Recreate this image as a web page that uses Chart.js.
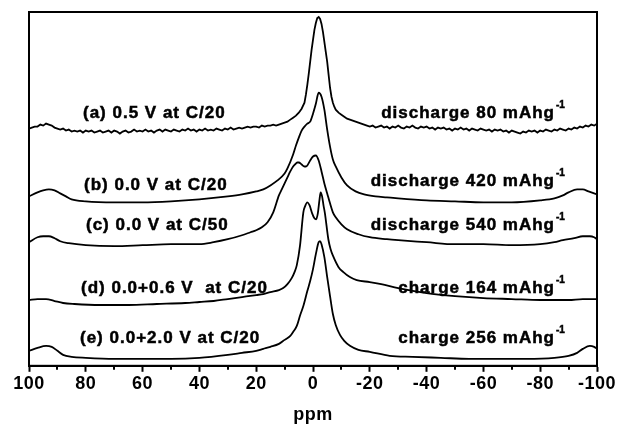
<!DOCTYPE html>
<html><head><meta charset="utf-8">
<script src="https://cdn.jsdelivr.net/npm/chart.js@4.4.0/dist/chart.umd.min.js"></script>
<style>html,body{margin:0;padding:0;background:#fff;}canvas{display:block;}</style>
</head><body><canvas id="c" width="621" height="433"></canvas>
<script>
// ---------- data (ppm positions and stacked intensities, a.u.) ----------
const ppmA = [100,99,98,97,96,95,94,93,92,91,90,89,88,87,86,85,84,83,82,81,80,79,78,77,76,75,74,73,72,71,70,69,68,67,66,65,64,63,62,61,60,59,58,57,56,55,54,53,52,51,50,49,48,47,46,45,44,43,42,41,40,39,38,37,36,35,34,33,32,31,30,29,28,27,26,25,24,23,22,21,20,19,18,17,16,15,14,13,
12,11,10,9,8,7,6,5,4,3,2.5,2,1.5,1,0.5,0,-0.5,-1,-1.5,-2,-2.5,-3,-3.5,-4,-4.5,-5,-5.5,-6,-6.5,-7,-7.5,-8,-9,-10,-11,-12,-13,-14,-15,-16,-17,-18,-19,
-20,-21,-22,-23,-24,-25,-26,-27,-28,-29,-30,-31,-32,-33,-34,-35,-36,-37,-38,-39,-40,-41,-42,-43,-44,-45,-46,-47,-48,-49,-50,-51,-52,-53,-54,-55,-56,-57,-58,-59,-60,-61,-62,-63,-64,-65,-66,-67,-68,-69,-70,-71,-72,-73,-74,-75,-76,-77,-78,-79,-80,-81,-82,-83,-84,-85,-86,-87,-88,-89,-90,-91,-92,-93,-94,-95,-96,-97,-98,-99,-100];
const intA = [238,239,240,240,242,241,243,242,241,239,238,237,238,236,237,235,236,235,236,234,236,235,236,234,235,236,234,235,236,234,236,235,233,235,236,234,235,237,235,236,235,237,235,236,234,236,237,235,237,236,235,237,236,235,237,236,238,236,237,235,237,236,238,236,237,236,238,237,236,238,237,239,237,238,239,238,239,240,239,240,240,239,241,240,241,241,242,241,
242,243,244,245,247,249,251,254,258,264,272,282,293,305,317,327,337,344,349,350,348,343,335,325,315,305,292,279,270,264,260,257,254,252,250,248,247,246,245,244,243,242,241,
240,241,239,240,241,239,240,238,240,239,241,239,238,240,239,241,239,238,240,239,240,238,239,237,239,238,239,237,238,236,238,237,239,237,238,236,238,237,236,238,237,236,237,235,237,236,237,235,236,234,236,235,234,233,235,234,236,235,236,234,236,235,237,236,235,237,236,238,237,236,238,237,239,238,240,239,241,240,242,241,243];

const ppmB = [100,97,95,93,91,89,87,85,80,70,60,50,40,30,25,20,17.5,15,12.5,10,9,7,6,5,4,3,2,1,0,-1,-2,-3,-4,-5,-6,-7,-8,-10,-12,-15,-18,-22,-26,-30,-40,-50,-60,-70,-80,-85,-88,-90,-93,-95,-97,-100];
const intB = [170,174,176,177,176,173,170,167,165,164,164,165,167,170,172,175,177,181,186,193,198,212,221,229,236,240,243,245,253,263,274,270,257,237,220,207,200,189,181,175,172,170,169,168,166,165,164,164,166,168,171,174,177,177,175,172];

const ppmC = [100,97,95,93,91,89,86,80,70,60,50,40,35,30,25,22,20,18,16,14,12,11,10,9,8,7,6,5.5,5,4,3,2.5,2,1,0,-1,-2,-3,-4,-5,-6,-7,-8,-10,-12,-16,-20,-26,-30,-40,-50,-60,-70,-80,-85,-88,-92,-95,-97.5,-99,-100];
const intC = [124,129,130,130,128,125,123,121,120,121,122,122,124,127,131,134,136,139,144,154,171,177,183,189,195,200,203,204,204,202,200,200,201,206,210,211,206,195,183,173,163,154,149,142,137,132,129,127,126,124,122,122,121,122,124,126,128,130,130,129,127];

const ppmD = [100,97,94,91,88,84,75,65,55,45,40,35,30,25,20,17.5,15,12,10.5,9,7.5,6.5,5.7,4.6,3.4,2.8,2,1.2,0.3,-0.5,-1.1,-1.7,-2.3,-2.7,-3.2,-3.7,-4.2,-5.4,-6.2,-7.1,-9,-10.7,-13,-15.4,-20,-24,-30,-40,-50,-60,-70,-80,-90,-95,-98,-100];
const intD = [66,67,67,65,63,62,61,61,62,63,64,65,67,69,71,72,74,76,78,82,88,94,101,120,154,160,164,161,153,148,147,153,167,174,170,161,153,127,117,110,99,94,89,86,84,82,78,73,70,68,67,66,66,67,67,67];

const ppmE = [100,97,94,92,90,88,85,80,70,60,50,40,30,25,20,17.5,15,12,10,8,7,5.7,4.5,3.4,2,1,0,-1,-2,-2.5,-3,-4,-5,-6,-7,-8,-9.5,-11,-13,-16,-20,-27,-35,-45,-55,-65,-75,-85,-90,-93,-95,-97.5,-99,-100];
const intE = [15,18,20,19,15,11,9,8,7,7,7,8,11,13,15,17,19,22,26,30,34,40,51,60,75,85,97,112,124,125,122,109,89,70,52,41,31,25,20,16,14,10,9,8,7,7,7,8,10,13,17,20,19,17];

const leftLabels = ['(a) 0.5 V at C/20','(b) 0.0 V at C/20','(c) 0.0 V at C/50','(d) 0.0+0.6 V  at C/20','(e) 0.0+2.0 V at C/20'];
const rightLabels = ['discharge 80 mAhg','discharge 420 mAhg','discharge 540 mAhg','charge 164 mAhg','charge 256 mAhg'];
const unitSuperscript = '-1';
const majorTicks = [100,80,60,40,20,0,-20,-40,-60,-80,-100];
const minorTicks = [90,70,50,30,10,-10,-30,-50,-70,-90];
const xTitle = 'ppm';

// ---------- layout / style ----------
const FONT = '"Liberation Sans", Arial, Helvetica, sans-serif';
const leftLabelX = [83,84,86,81,80];
const leftLabelY = [113,185,225,288,338];
const rightLabelEndX = 555;
const rightLabelY = [113,181,225,288,338];

function pts(xs, ys){ return xs.map((x,i)=>({x:x, y:ys[i]})); }
const series = [[ppmA,intA],[ppmB,intB],[ppmC,intC],[ppmD,intD],[ppmE,intE]];

function heavyText(ctx, t, x, y){
  ctx.fillText(t, x, y);
  ctx.strokeText(t, x, y);
}

const decor = {
  id:'decor',
  beforeDraw(chart){ chart.ctx.letterSpacing = '0.5px'; },
  afterDraw(chart){
    const ctx = chart.ctx, a = chart.chartArea, xs = chart.scales.x;
    ctx.save();
    ctx.strokeStyle = '#000'; ctx.lineWidth = 2;
    ctx.strokeRect(a.left, a.top, a.right - a.left, a.bottom - a.top);
    ctx.beginPath();
    minorTicks.forEach(v => { const px = Math.round(xs.getPixelForValue(v)); ctx.moveTo(px, a.bottom); ctx.lineTo(px, a.bottom + 4); });
    ctx.stroke();
    ctx.fillStyle = '#000';
    ctx.lineWidth = 0.5;
    ctx.textBaseline = 'middle';
    leftLabels.forEach((t,i) => {
      ctx.font = 'bold 17px ' + FONT;
      ctx.letterSpacing = '1px';
      ctx.textAlign = 'left';
      heavyText(ctx, t, leftLabelX[i], leftLabelY[i]);
    });
    rightLabels.forEach((t,i) => {
      ctx.font = 'bold 17px ' + FONT;
      ctx.letterSpacing = '1px';
      ctx.textAlign = 'right';
      heavyText(ctx, t, rightLabelEndX, rightLabelY[i]);
      ctx.font = 'bold 10px ' + FONT;
      ctx.letterSpacing = '0px';
      ctx.textAlign = 'left';
      heavyText(ctx, unitSuperscript, rightLabelEndX + 1, rightLabelY[i] - 8);
    });
    ctx.restore();
  }
};

new Chart(document.getElementById('c'), {
  type: 'line',
  data: {
    datasets: series.map(s => ({
      data: pts(s[0], s[1]),
      borderColor: '#000',
      borderWidth: 1.8,
      pointRadius: 0,
      fill: false,
      tension: s[0] === ppmA ? 0 : 0.4,
      cubicInterpolationMode: s[0] === ppmA ? 'default' : 'monotone'
    }))
  },
  options: {
    responsive: false,
    devicePixelRatio: 1,
    animation: false,
    layout: { padding: { left: 29, right: 24, top: 12, bottom: 5 } },
    plugins: { legend: { display: false }, tooltip: { enabled: false } },
    scales: {
      x: {
        type: 'linear', min: -100, max: 100, reverse: true,
        border: { display: true, color: '#000', width: 2 },
        grid: {
          drawOnChartArea: false, drawTicks: true, tickLength: 6, tickWidth: 2,
          tickColor: c => (majorTicks.includes(c.tick.value) ? '#000' : 'rgba(0,0,0,0)')
        },
        ticks: {
          stepSize: 10, autoSkip: false, maxRotation: 0, padding: 1,
          color: '#000', font: { family: FONT, size: 18, weight: 'bold' },
          callback: v => (majorTicks.includes(v) ? String(v) : '')
        },
        title: { display: true, text: xTitle, color: '#000',
          font: { family: FONT, size: 18, weight: 'bold' }, padding: { top: 9, bottom: 2 } }
      },
      y: { display: false, min: 0, max: 355 }
    }
  },
  plugins: [decor]
});
</script>
</body></html>
